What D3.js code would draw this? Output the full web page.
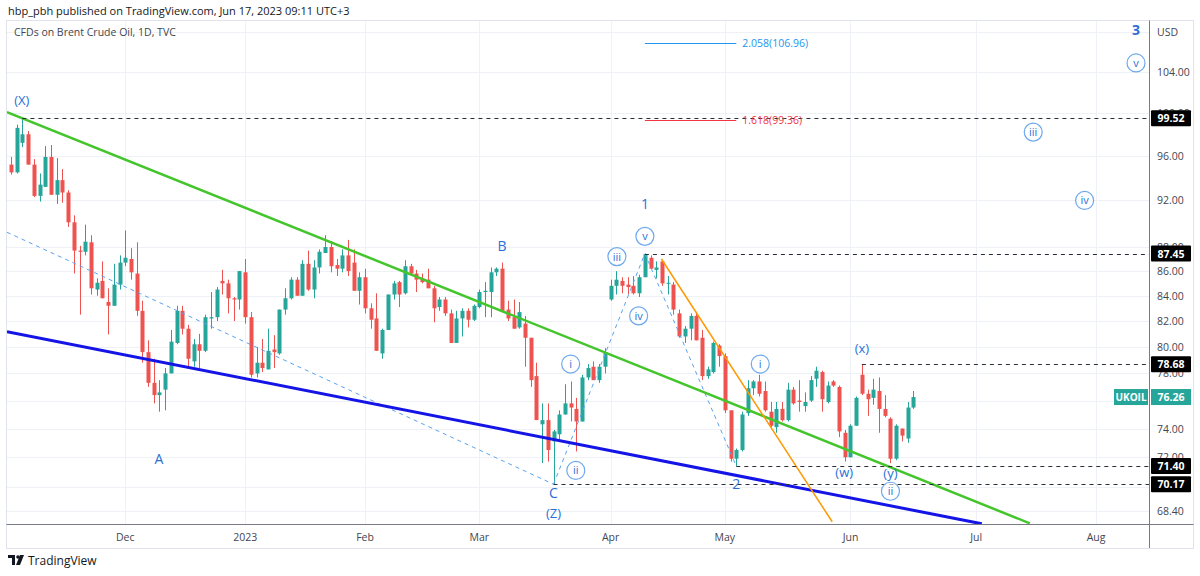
<!DOCTYPE html>
<html><head><meta charset="utf-8">
<script src="https://cdn.jsdelivr.net/npm/d3@7"></script>
<style>body{margin:0;background:#fff;} svg{display:block;font-family:"Open Sans","Noto Sans",Arial,sans-serif;}</style>
</head><body><svg id="c" width="1200" height="576"></svg>
<script>
// ---------- DATA ----------
const opens=[95.2,94.5,97.2,98.0,95.2,92.4,93.2,95.9,92.5,93.8,92.7,90.1,87.7,87.6,88.4,84.5,85.2,83.5,83.2,84.9,
86.7,87.0,85.8,82.8,79.6,77.3,76.4,76.8,78.0,80.3,82.8,81.4,78.9,80.2,79.7,82.2,82.3,85.2,85.0,83.8,
83.7,85.9,82.3,78.0,78.8,78.3,79.8,79.5,82.9,83.8,85.3,84.0,86.6,84.5,86.3,87.5,88.0,86.5,86.2,87.3,
86.7,84.4,85.5,83.0,82.2,79.5,81.3,84.1,85.1,84.2,86.4,85.8,85.4,85.3,84.6,83.1,83.7,82.6,80.3,82.2,
82.8,82.1,83.1,84.3,84.3,85.9,86.2,82.9,82.3,81.5,81.8,80.7,77.8,74.3,74.6,73.1,73.6,75.0,75.8,75.4,
74.5,77.7,78.5,77.5,78.5,83.7,84.8,85.2,84.9,84.8,84.2,85.5,87.1,86.1,86.8,85.0,84.9,82.6,80.8,81.4,
82.4,80.7,77.8,78.1,80.1,79.3,75.3,71.9,72.5,75.1,76.9,77.4,76.7,75.2,74.1,75.4,74.6,76.8,76.0,75.6,
76.0,77.6,78.1,75.9,77.4,77.0,73.7,72.0,74.2,77.9,76.5,76.2,76.7,75.4,74.7,71.9,74.0,73.3,75.5];
const highs=[95.9,98.9,99.52,98.3,95.7,94.4,96.9,97.0,95.8,94.8,92.9,90.7,88.1,89.9,89.0,85.4,86.8,84.6,86.6,87.3,
89.4,87.9,88.4,83.6,80.5,79.1,77.5,78.4,81.3,83.2,83.2,81.7,80.6,81.0,82.5,84.3,84.7,86.1,85.3,83.9,
86.0,87.0,82.7,80.0,80.6,81.4,80.9,82.9,84.6,85.5,85.5,86.9,87.7,86.9,87.8,89.0,88.5,87.0,87.8,88.6,
87.8,85.9,86.2,83.4,84.2,81.4,84.1,85.2,85.2,86.9,86.6,86.1,85.8,86.2,84.8,83.9,83.9,82.9,82.8,83.0,
83.0,83.3,84.5,85.1,86.3,86.3,86.7,83.6,83.7,83.5,82.4,80.7,78.8,75.8,75.8,73.9,75.3,77.2,77.4,76.2,
77.9,78.7,78.9,78.7,79.9,85.3,86.0,85.5,85.5,85.6,85.7,87.45,87.3,86.8,86.9,85.6,85.1,82.9,81.6,82.6,
82.7,81.3,78.5,80.4,80.2,79.5,75.3,72.6,75.2,77.5,77.5,77.9,77.4,75.9,75.9,75.9,77.3,77.0,77.5,76.6,
77.8,78.5,78.2,77.4,77.5,77.1,73.9,74.3,76.3,78.68,76.8,77.6,77.7,76.4,74.8,74.3,74.0,75.9,76.7];
const lows=[94.3,94.4,96.8,95.2,92.3,91.9,93.2,92.5,91.7,91.8,89.7,85.8,82.5,87.3,84.1,84.0,83.8,80.96,83.2,84.5,
86.4,85.3,82.4,78.8,77.0,75.8,75.2,75.3,78.0,80.2,80.96,78.5,78.5,78.4,79.6,81.4,82.0,84.1,82.6,82.0,
82.9,81.8,77.7,77.7,78.1,78.3,78.4,79.4,82.5,83.7,84.0,84.0,84.4,83.8,85.8,87.5,85.9,85.6,85.9,85.6,
84.4,83.3,82.6,81.4,79.7,79.1,81.3,83.7,83.1,84.1,85.7,84.3,85.0,84.6,81.9,82.8,82.4,80.3,80.3,80.8,
81.5,82.0,83.0,82.3,82.3,85.6,82.8,82.0,81.4,81.4,78.5,77.0,74.6,71.6,71.7,70.17,73.2,75.0,74.5,72.4,
74.5,77.5,77.5,77.3,78.0,83.6,84.1,84.2,84.1,84.1,83.9,85.5,86.2,85.4,84.8,84.1,82.5,80.7,80.3,80.5,
80.5,77.5,77.6,78.0,78.5,75.1,71.7,71.40,72.4,74.9,76.4,76.3,75.2,74.1,73.7,74.5,74.5,75.7,75.2,75.2,
75.9,77.0,75.2,75.8,77.0,73.4,71.7,72.0,74.2,76.4,74.9,75.7,73.7,74.8,71.6,71.8,73.1,73.0,75.4];
const closes=[94.5,98.6,98.0,95.2,92.4,93.4,95.9,92.5,93.8,92.7,90.1,87.7,87.6,88.45,84.6,85.05,83.8,83.2,84.9,86.7,
87.1,85.9,82.8,79.6,77.3,76.4,76.6,78.0,80.4,82.8,81.4,79.1,80.2,79.7,82.3,82.3,84.5,85.0,83.8,83.7,
86.0,82.3,77.9,78.8,78.4,79.7,79.6,82.9,83.8,85.3,84.0,86.6,84.5,86.3,87.6,88.0,86.4,86.2,87.3,86.0,
84.4,85.5,83.0,82.1,79.7,81.3,84.1,85.0,84.1,86.4,85.8,85.3,85.1,84.6,83.0,83.7,82.6,80.3,82.2,82.8,
82.1,83.2,84.3,84.4,85.9,86.2,82.8,82.2,81.4,82.7,80.7,77.5,74.6,74.6,72.5,73.8,75.0,75.8,75.5,74.5,
77.7,78.4,77.5,78.5,79.6,84.8,85.3,84.8,84.7,84.2,85.5,87.4,86.2,86.3,85.0,85.05,82.9,80.8,81.4,82.4,
80.5,77.8,78.3,80.3,79.3,75.3,71.9,72.5,75.0,76.9,77.4,76.5,75.3,74.2,75.4,74.6,76.8,75.8,75.9,75.9,
77.5,78.2,76.1,77.1,77.1,73.8,72.0,74.2,76.2,76.5,76.1,76.8,75.4,74.9,71.9,74.2,73.5,75.5,76.26];

const startDate="2022-11-03", endDate="2023-08-31";
const holidays=["2022-12-26","2023-01-02","2023-05-29"];
const priceTicks=[108,104,100,96,92,88,86,84,82,80,78,76,74,72,70,68.4];
const priceLabels=[104,100,96,92,88,86,84,82,80,78,74,72,68.4];
const monthNames=["Jan","Feb","Mar","Apr","May","Jun","Jul","Aug","Sep","Oct","Nov","Dec"];

const levelPrices=[99.52,87.45,78.68,71.40,70.17];
const levelStart=[2,111,149,127,95];

const waveText  =["(X)","A","B","C","(Z)","1","v","iii","iv","i","ii","2","i","(x)","(w)","(y)","ii","3","v","iii","iv"];
const waveIdx   =[1.9,25.9,86,95,95,111,111,106.1,109.9,98,98.9,127,131.2,149,145.9,154,154,197,197,179,188];
const wavePrice =[101.3,71.9,88.1,69.6,68.3,91.7,88.9,87.2,82.4,78.7,71.1,70.2,78.7,79.9,71.0,70.9,69.7,108.3,104.9,98.2,92.0];
const waveCircle=[0,0,0,0,0,0,1,1,1,1,1,0,1,0,0,0,1,0,1,1,1];

// trend lines: [idx1, price1, idx2, price2]
const greenLine=[-0.7,100.1,178.4,67.6];
const blueLine=[-0.7,81.17,170,67.57];
const orangeLine=[113.9,87.0,143.8,67.7];
const diagDashed=[-0.7,89.25,95,70.17];
const wavePathIdx=[95,111,127];
const wavePathPrice=[70.17,87.45,71.40];
const fibText=["2.058(106.96)","1.618(99.36)"];
const fibPrice=[106.96,99.36];

// ---------- LAYOUT ----------
const svg=d3.select("#c");
const W=1200,H=576;
const plotL=7, plotR=1149, plotT=21, plotB=524;
const up="#26a69a", down="#ef5350", waveCol="#2b6fd6", circCol="#6ea8ee";

const dates=[];
for(let d=new Date(startDate+"T00:00:00Z"); d<=new Date(endDate+"T00:00:00Z"); d=new Date(d.getTime()+864e5)){
  const wd=d.getUTCDay(); const s=d.toISOString().slice(0,10);
  if(wd>0&&wd<6&&!holidays.includes(s)) dates.push(d);
}
const x=d3.scaleLinear().domain([0,closes.length-1]).range([11,913.3]);
const y=d3.scaleLog().domain([68.4,104]).range([511,72]);

svg.append("rect").attr("width",W).attr("height",H).attr("fill","#fff");
svg.append("text").attr("x",8).attr("y",15).attr("font-size",11).attr("fill","#131722")
  .text("hbp_pbh published on TradingView.com, Jun 17, 2023 09:11 UTC+3");

svg.append("rect").attr("x",6.5).attr("y",20.5).attr("width",1187).attr("height",528).attr("fill","none").attr("stroke","#e0e3eb");

svg.append("clipPath").attr("id","pc").append("rect").attr("x",plotL).attr("y",plotT).attr("width",plotR-plotL).attr("height",plotB-plotT);

const monthTicks=[];
dates.forEach((d,i)=>{ if(i>0 && d.getUTCMonth()!==dates[i-1].getUTCMonth()){
  const m=d.getUTCMonth(); monthTicks.push({i, label: m===0? String(d.getUTCFullYear()) : monthNames[m]}); }});

const grid=svg.append("g").attr("clip-path","url(#pc)");
grid.selectAll("line.v").data(monthTicks).join("line")
  .attr("x1",d=>Math.round(x(d.i))+0.5).attr("x2",d=>Math.round(x(d.i))+0.5)
  .attr("y1",plotT).attr("y2",plotB).attr("stroke","#eef1f6");
grid.selectAll("line.h").data(priceTicks).join("line")
  .attr("x1",plotL).attr("x2",plotR).attr("y1",d=>Math.round(y(d))+0.5).attr("y2",d=>Math.round(y(d))+0.5)
  .attr("stroke","#eef1f6");

svg.append("text").attr("x",14).attr("y",36).attr("font-size",10.5).attr("fill","#434651")
  .text("CFDs on Brent Crude Oil, 1D, TVC");

const plot=svg.append("g").attr("clip-path","url(#pc)");

const data=closes.map((c,i)=>({i,o:opens[i],h:highs[i],l:lows[i],c}));
plot.selectAll("line.wick").data(data).join("line")
  .attr("x1",d=>Math.round(x(d.i))+0.5).attr("x2",d=>Math.round(x(d.i))+0.5)
  .attr("y1",d=>y(d.h)).attr("y2",d=>y(d.l))
  .attr("stroke",d=>d.c>=d.o?up:down).attr("stroke-width",1);
plot.selectAll("rect.body").data(data).join("rect")
  .attr("x",d=>Math.round(x(d.i))-1.5).attr("width",4)
  .attr("y",d=>y(Math.max(d.o,d.c)))
  .attr("height",d=>Math.max(1,Math.abs(y(d.o)-y(d.c))))
  .attr("fill",d=>d.c>=d.o?up:down);

function seg(arr,col,w,dash){
  plot.append("line").attr("x1",x(arr[0])).attr("y1",y(arr[1])).attr("x2",x(arr[2])).attr("y2",y(arr[3]))
   .attr("stroke",col).attr("stroke-width",w).attr("stroke-dasharray",dash||null);
}
seg(diagDashed,"#5aa2ef",1,"4,4");
const wp=d3.line().x((d,k)=>x(wavePathIdx[k])).y((d,k)=>y(wavePathPrice[k]));
plot.append("path").attr("d",wp(wavePathIdx)).attr("fill","none").attr("stroke","#5aa2ef").attr("stroke-dasharray","4,4");
seg(greenLine,"#44c52c",2.5);
seg(blueLine,"#1414e6",3);
seg(orangeLine,"#ff9800",1.5);

plot.selectAll("line.lvl").data(levelPrices).join("line")
  .attr("x1",(d,k)=>x(levelStart[k])).attr("x2",plotR)
  .attr("y1",d=>Math.round(y(d))+0.5).attr("y2",d=>Math.round(y(d))+0.5)
  .attr("stroke","#2a2e39").attr("stroke-dasharray","4,4");

const fibCol=["#2196f3","#f23645"];
fibPrice.forEach((p,k)=>{
  plot.append("line").attr("x1",x(111)).attr("x2",x(127)).attr("y1",Math.round(y(p))+0.5).attr("y2",Math.round(y(p))+0.5).attr("stroke",fibCol[k]);
  plot.append("text").attr("x",x(127)+6).attr("y",y(p)+4).attr("font-size",10.5).attr("fill",fibCol[k]).text(fibText[k]);
});

waveText.forEach((t,k)=>{
  const cx=x(waveIdx[k]), cy=y(wavePrice[k]);
  if(waveCircle[k]){
    plot.append("circle").attr("cx",cx).attr("cy",cy).attr("r",9).attr("fill","#fff").attr("fill-opacity",0.6)
      .attr("stroke",circCol).attr("stroke-width",1.2);
    plot.append("text").attr("x",cx).attr("y",cy+4).attr("text-anchor","middle").attr("font-size",11)
      .attr("fill",waveCol).text(t);
  } else {
    const big=(t==="3");
    plot.append("text").attr("x",cx).attr("y",cy+5).attr("text-anchor","middle")
      .attr("font-size",big?14:(t.length>1?13:14)).attr("font-weight",big?"bold":"normal")
      .attr("fill",waveCol).text(t);
  }
});

svg.append("line").attr("x1",plotR+0.5).attr("x2",plotR+0.5).attr("y1",20.5).attr("y2",548).attr("stroke","#787b86");
svg.append("line").attr("x1",6.5).attr("x2",1193.5).attr("y1",plotB+0.5).attr("y2",plotB+0.5).attr("stroke","#787b86");

svg.append("text").attr("x",1157).attr("y",36).attr("font-size",10.5).attr("fill","#434651").text("USD");
svg.selectAll("text.pt").data(priceLabels).join("text")
  .attr("x",1157).attr("y",d=>y(d)+4).attr("font-size",10.5).attr("fill","#434651").text(d=>d.toFixed(2));

svg.selectAll("text.tt").data(monthTicks).join("text")
  .attr("x",d=>x(d.i)).attr("y",541).attr("text-anchor","middle").attr("font-size",10.5).attr("fill","#434651")
  .text(d=>d.label);

levelPrices.forEach(p=>{
  const cy=y(p);
  svg.append("rect").attr("x",1151).attr("y",cy-8).attr("width",40).attr("height",16).attr("fill","#000").attr("rx",1);
  svg.append("text").attr("x",1171).attr("y",cy+4).attr("text-anchor","middle").attr("font-size",10.5)
    .attr("font-weight","bold").attr("fill","#fff").text(p.toFixed(2));
});
const last=closes[closes.length-1], ly=y(last);
svg.append("rect").attr("x",1114).attr("y",ly-8).attr("width",34).attr("height",16).attr("fill",up);
svg.append("text").attr("x",1131).attr("y",ly+4).attr("text-anchor","middle").attr("font-size",10)
  .attr("font-weight","bold").attr("fill","#fff").text("UKOIL");
svg.append("rect").attr("x",1151).attr("y",ly-8).attr("width",40).attr("height",16).attr("fill",up);
svg.append("text").attr("x",1171).attr("y",ly+4).attr("text-anchor","middle").attr("font-size",10.5)
  .attr("font-weight","bold").attr("fill","#fff").text(last.toFixed(2));

const lg=svg.append("g").attr("transform","translate(8,555)");
lg.append("path").attr("d","M0,0H7V10H4V3H0Z").attr("fill","#131722");
lg.append("circle").attr("cx",10).attr("cy",2).attr("r",1.8).attr("fill","#131722");
lg.append("path").attr("d","M12,0H16L12,10H8Z").attr("fill","#131722");
svg.append("text").attr("x",28).attr("y",565).attr("font-size",12).attr("fill","#131722").text("TradingView");
</script></body></html>
